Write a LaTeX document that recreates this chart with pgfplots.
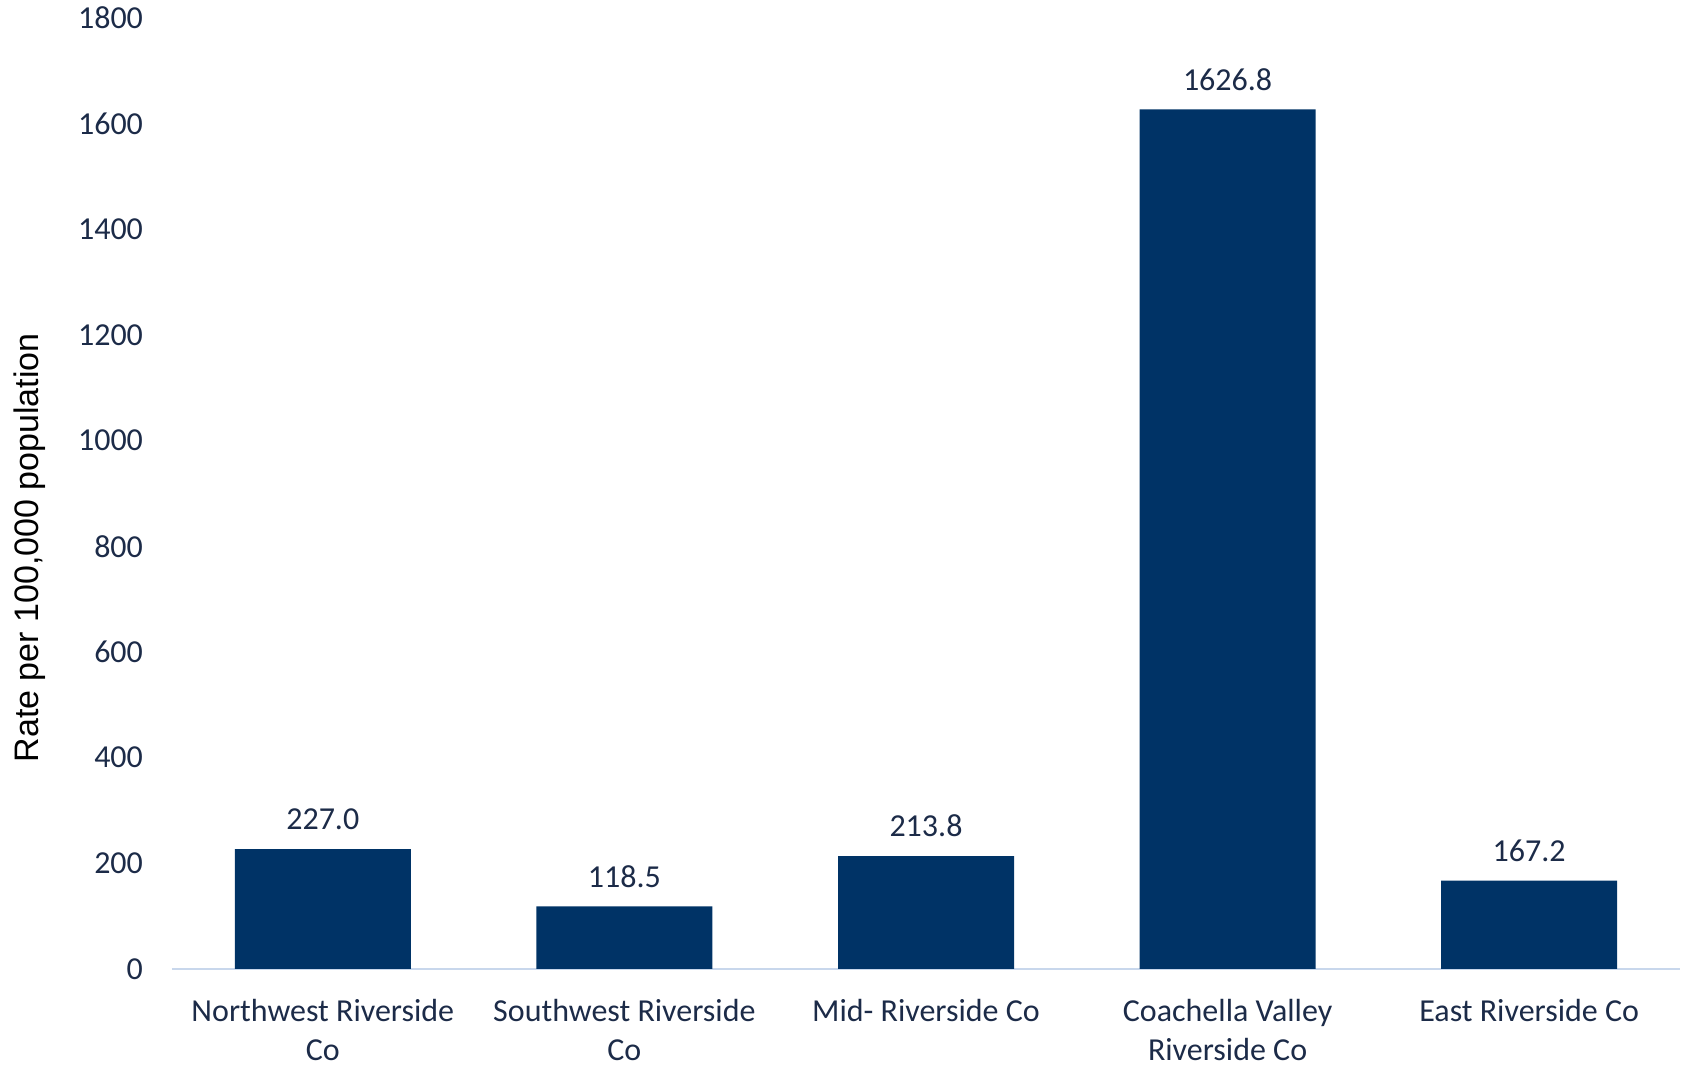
\documentclass[border=0pt]{standalone}
\usepackage{fontspec}
\setmainfont{Carlito}
\newfontfamily\arialfont{Liberation Sans}
\usepackage{pgfplots}
\pgfplotsset{compat=1.18}
\definecolor{barblue}{HTML}{003366}
\definecolor{txtnavy}{HTML}{1C2B48}
\definecolor{axisblue}{HTML}{C8D7EC}
\begin{document}
\begin{tikzpicture}
\useasboundingbox (-86pt,-48pt) rectangle (755.5pt,484.5pt);
\begin{axis}[
  at={(0pt,0pt)}, anchor=south west,
  scale only axis,
  width=754pt, height=475.5pt,
  xmin=-0.5, xmax=4.5,
  ymin=0, ymax=1800,
  ytick={0,200,...,1800},
  xtick={0,1,2,3,4},
  xticklabels={{Northwest Riverside\\Co},{Southwest Riverside\\Co},{Mid- Riverside Co},{Coachella Valley\\Riverside Co},{East Riverside Co}},
  xticklabel style={align=center, font=\fontsize{16}{19.5}\selectfont, text=txtnavy, yshift=-11.7pt},
  yticklabel style={font=\fontsize{16}{19.5}\selectfont, text=txtnavy, xshift=-11pt},
  /pgf/number format/assume math mode=true,
  yticklabel={\pgfmathprintnumber[fixed,precision=0,1000 sep={}]{\tick}},
  major tick length=0pt,
  axis y line*=left,
  axis x line*=bottom,
  y axis line style={draw=none},
  x axis line style={draw=axisblue, line width=1pt},
  separate axis lines,
  ybar, bar width=88pt,
  nodes near coords,
  nodes near coords style={font=\fontsize{16}{19.5}\selectfont, text=txtnavy, /pgf/number format/fixed, /pgf/number format/precision=1, /pgf/number format/fixed zerofill, /pgf/number format/1000 sep={}, yshift=6pt},
  clip=false,
]
\addplot[fill=barblue, draw=none] coordinates {(0,227.0) (1,118.5) (2,213.8) (3,1626.8) (4,167.2)};
\end{axis}
\node[rotate=90, font=\arialfont\fontsize{17}{20}\selectfont, text=black] at (-71pt,210.6pt) {Rate per 100,000 population};
\end{tikzpicture}
\end{document}
